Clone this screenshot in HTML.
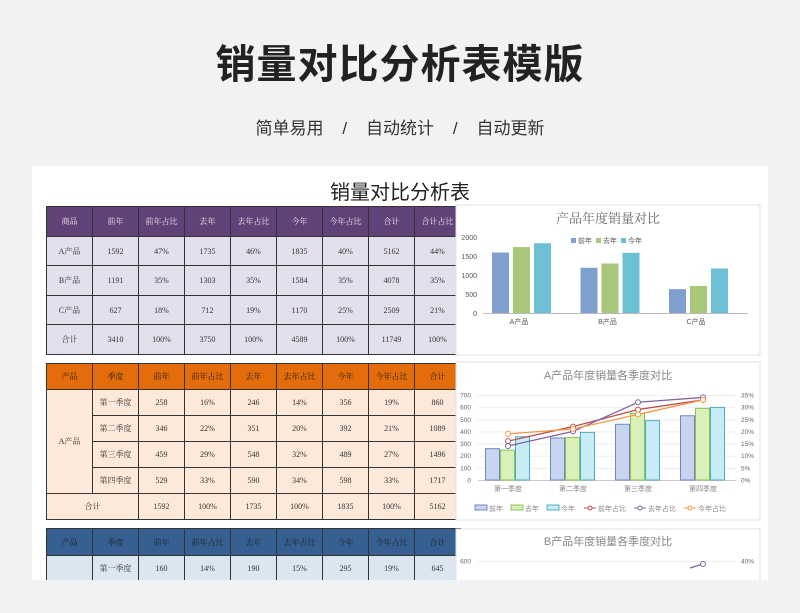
<!DOCTYPE html>
<html><head><meta charset="utf-8">
<style>
body{margin:0;width:800px;height:613px;background:#f1f2f4;overflow:hidden;font-family:"Liberation Sans","Noto Sans CJK SC",sans-serif;position:relative}
.abs{position:absolute}
table{border-collapse:collapse;position:absolute;table-layout:fixed;font-family:"Liberation Serif","Noto Serif CJK SC",serif;font-size:8px;color:#333}
td{border:1px solid #333;text-align:center;padding:0;width:45px}
</style></head><body>
<div class="abs" style="left:0;top:32px;width:800px;text-align:center;font-size:40px;font-weight:bold;color:#222;letter-spacing:1px">销量对比分析表模版</div>
<div class="abs" style="left:0;top:114px;width:800px;text-align:center;font-size:17px;color:#333;word-spacing:0">简单易用 &nbsp;&nbsp;&nbsp;/&nbsp;&nbsp;&nbsp; 自动统计 &nbsp;&nbsp;&nbsp;/&nbsp;&nbsp;&nbsp; 自动更新</div>
<div class="abs" style="left:32px;top:166px;width:736px;height:414px;background:#fff;overflow:hidden">
<div class="abs" style="left:0;top:10px;width:736px;text-align:center;font-size:20px;color:#222;font-family:'Liberation Sans','Noto Sans CJK SC',sans-serif">销量对比分析表</div>

<table style="left:14px;top:40px;width:407px">
<tr style="height:30px;background:#5f4278;color:#eee"><td>商品</td><td>前年</td><td>前年占比</td><td>去年</td><td>去年占比</td><td>今年</td><td>今年占比</td><td>合计</td><td>合计占比</td></tr>
<tr style="height:29px;background:#e4dfec"><td>A产品</td><td>1592</td><td>47%</td><td>1735</td><td>46%</td><td>1835</td><td>40%</td><td>5162</td><td>44%</td></tr>
<tr style="height:30px;background:#e4dfec"><td>B产品</td><td>1191</td><td>35%</td><td>1303</td><td>35%</td><td>1584</td><td>35%</td><td>4078</td><td>35%</td></tr>
<tr style="height:29px;background:#e4dfec"><td>C产品</td><td>627</td><td>18%</td><td>712</td><td>19%</td><td>1170</td><td>25%</td><td>2509</td><td>21%</td></tr>
<tr style="height:30px;background:#e4dfec"><td>合计</td><td>3410</td><td>100%</td><td>3750</td><td>100%</td><td>4589</td><td>100%</td><td>11749</td><td>100%</td></tr>
</table>

<table style="left:14px;top:197px;width:407px">
<tr style="height:26px;background:#e46c0a;color:#222"><td>产品</td><td>季度</td><td>前年</td><td>前年占比</td><td>去年</td><td>去年占比</td><td>今年</td><td>今年占比</td><td>合计</td></tr>
<tr style="height:26px;background:#fde9d9"><td rowspan="4">A产品</td><td>第一季度</td><td>258</td><td>16%</td><td>246</td><td>14%</td><td>356</td><td>19%</td><td>860</td></tr>
<tr style="height:26px;background:#fde9d9"><td>第二季度</td><td>346</td><td>22%</td><td>351</td><td>20%</td><td>392</td><td>21%</td><td>1089</td></tr>
<tr style="height:26px;background:#fde9d9"><td>第三季度</td><td>459</td><td>29%</td><td>548</td><td>32%</td><td>489</td><td>27%</td><td>1496</td></tr>
<tr style="height:26px;background:#fde9d9"><td>第四季度</td><td>529</td><td>33%</td><td>590</td><td>34%</td><td>598</td><td>33%</td><td>1717</td></tr>
<tr style="height:26px;background:#fde9d9"><td colspan="2">合计</td><td>1592</td><td>100%</td><td>1735</td><td>100%</td><td>1835</td><td>100%</td><td>5162</td></tr>
</table>

<table style="left:14px;top:362px;width:407px">
<tr style="height:27px;background:#366092;color:#222"><td>产品</td><td>季度</td><td>前年</td><td>前年占比</td><td>去年</td><td>去年占比</td><td>今年</td><td>今年占比</td><td>合计</td></tr>
<tr style="height:26px;background:#dce6f1"><td></td><td>第一季度</td><td>160</td><td>14%</td><td>190</td><td>15%</td><td>295</td><td>19%</td><td>645</td></tr>
</table>
</div>

<svg class="abs" style="left:0;top:0" width="800" height="613">
<rect x="456" y="205" width="304" height="150" fill="#fff" stroke="#e2e2e2"/>
<rect x="456" y="362" width="304" height="158" fill="#fff" stroke="#e2e2e2"/>
<rect x="456" y="529" width="304" height="60" fill="#fff" stroke="#e2e2e2"/>
<g id="c1"></g><g id="c2"></g><g id="c3"></g>
<rect x="0" y="580" width="800" height="33" fill="#f1f2f4"/>
</svg>
<script>
const NS='http://www.w3.org/2000/svg';
function mk(p,t,a,txt){const e=document.createElementNS(NS,t);for(const k in a)e.setAttribute(k,a[k]);if(txt!==undefined)e.textContent=txt;p.appendChild(e);return e;}
// Chart 1 data
const c1Categories=['A产品','B产品','C产品'];
const c1Series=['前年','去年','今年'];
const c1Prev=[1592,1191,627];
const c1Last=[1735,1303,712];
const c1This=[1835,1584,1170];
const c1Ticks=[0,500,1000,1500,2000];
// Chart 2 data
const c2Categories=['第一季度','第二季度','第三季度','第四季度'];
const c2Prev=[258,346,459,529];
const c2Last=[246,351,548,590];
const c2This=[356,392,489,598];
const c2PrevPct=[16,22,29,33];
const c2LastPct=[14,20,32,34];
const c2ThisPct=[19,21,27,33];
const c2LeftTicks=[0,100,200,300,400,500,600,700];
const c2RightTicks=[0,5,10,15,20,25,30,35];

const g1=document.getElementById('c1');
mk(g1,'text',{x:608,y:223,'text-anchor':'middle','font-size':13,fill:'#666','font-family':'"Liberation Serif","Noto Serif CJK SC",serif'},'产品年度销量对比');
const y1=v=>313-v*(76/2000);
c1Ticks.forEach(t=>{const e=mk(g1,'text',{x:477,y:y1(t)+3,'text-anchor':'end','font-size':7,fill:'#555'},t);});
mk(g1,'line',{x1:483,x2:748,y1:313.5,y2:313.5,stroke:'#bbb'});
const cols1=['#7f9fcf','#a9c77a','#6dc0d4'];
const sets1=[c1Prev,c1Last,c1This];
const x1=i=>519+i*88.5;
c1Categories.forEach((c,i)=>{
 sets1.forEach((s,j)=>{const r=mk(g1,'rect',{x:x1(i)-27+j*21,y:y1(s[i]),width:17,height:313-y1(s[i]),fill:cols1[j]});});
 mk(g1,'text',{x:x1(i),y:324,'text-anchor':'middle','font-size':7,fill:'#555'},c);
});
c1Series.forEach((s,j)=>{mk(g1,'rect',{x:571+j*25,y:238,width:5,height:5,fill:cols1[j]});const t=mk(g1,'text',{x:578+j*25,y:243,'font-size':7,fill:'#555'},s);});

const g2=document.getElementById('c2');
mk(g2,'text',{x:608,y:379,'text-anchor':'middle','font-size':11,fill:'#888'},'A产品年度销量各季度对比');
const y2=v=>480-v*(85/700);
const y2r=v=>480-v*(85/35);
c2LeftTicks.forEach(t=>{mk(g2,'line',{x1:478,x2:736,y1:y2(t)+.5,y2:y2(t)+.5,stroke:t?'#eee':'#ccc'});const e=mk(g2,'text',{x:471,y:y2(t)+2.5,'text-anchor':'end','font-size':6.5,fill:'#666'},t);});
c2RightTicks.forEach(t=>{const e=mk(g2,'text',{x:741,y:y2r(t)+2.5,'font-size':6.5,fill:'#666'},t+'%');});
const x2=i=>508+i*65;
const fills2=['#c9d4f0','#d9f0b8','#c7ecf5'],strokes2=['#6f87c3','#8fc058','#4bacc6'];
const sets2=[c2Prev,c2Last,c2This];
c2Categories.forEach((c,i)=>{
 sets2.forEach((s,j)=>{const r=mk(g2,'rect',{x:x2(i)-22.5+j*15,y:y2(s[i]),width:14,height:480-y2(s[i]),fill:fills2[j],stroke:strokes2[j],'stroke-width':1});});
 mk(g2,'text',{x:x2(i),y:491,'text-anchor':'middle','font-size':7,fill:'#888'},c);
});
const lc=['#c0504d','#8064a2','#f79646'];
[c2PrevPct,c2LastPct,c2ThisPct].forEach((s,j)=>{
 const p=mk(g2,'polyline',{points:s.map((v,i)=>x2(i)+','+y2r(v)).join(' '),fill:'none',stroke:lc[j],'stroke-width':1.3});
 
 s.forEach((v,i)=>mk(g2,'circle',{cx:x2(i),cy:y2r(v),r:2.5,fill:'#fff',stroke:lc[j],'stroke-width':1}));
});
const leg=[['前年',0],['去年',1],['今年',2]];
leg.forEach(([n,j],k)=>{const lx=475+k*36;mk(g2,'rect',{x:lx,y:505,width:12,height:5,fill:fills2[j],stroke:strokes2[j]});mk(g2,'text',{x:lx+14,y:511,'font-size':7,fill:'#888'},n);});
['前年占比','去年占比','今年占比'].forEach((n,j)=>{const lx=584+j*50;mk(g2,'line',{x1:lx,x2:lx+12,y1:508,y2:508,stroke:lc[j]});mk(g2,'circle',{cx:lx+6,cy:508,r:2,fill:'#fff',stroke:lc[j]});mk(g2,'text',{x:lx+14,y:511,'font-size':7,fill:'#888'},n);});

const g3=document.getElementById('c3');
mk(g3,'text',{x:608,y:545,'text-anchor':'middle','font-size':11,fill:'#888'},'B产品年度销量各季度对比');
mk(g3,'line',{x1:478,x2:736,y1:561.5,y2:561.5,stroke:'#eee'});
mk(g3,'text',{x:471,y:563.5,'text-anchor':'end','font-size':6.5,fill:'#666'},'600');
mk(g3,'text',{x:741,y:563.5,'font-size':6.5,fill:'#666'},'40%');
mk(g3,'line',{x1:690,x2:703,y1:568,y2:564,stroke:'#8064a2','stroke-width':1.3});
mk(g3,'circle',{cx:703,cy:564,r:2.5,fill:'#fff',stroke:'#8064a2'});
</script>
</body></html>
